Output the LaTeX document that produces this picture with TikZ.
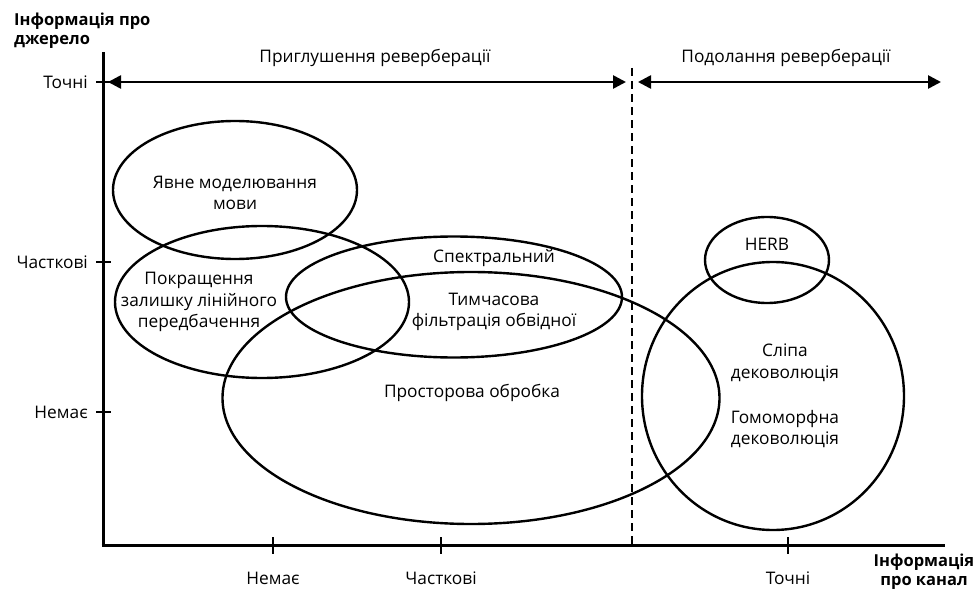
\documentclass[tikz,border=0pt]{standalone}
\usepackage{fontspec}
\setmainfont{Open Sans}
\usepackage{tikz}
\usetikzlibrary{shapes.geometric,arrows.meta,positioning,calc}

\begin{document}
\begin{tikzpicture}[
    x=1pt, y=-1pt,
    font=\fontsize{17.3}{21.5}\selectfont,
    axis/.style={line width=3pt},
    tick/.style={line width=2.8pt},
    region/.style={ellipse, draw, line width=2.4pt, inner sep=0pt, outer sep=0pt},
    label/.style={align=center, inner sep=1pt},
    ticklabel/.style={inner sep=1pt},
    arrow/.style={{Triangle[length=13pt,width=13pt]}-{Triangle[length=13pt,width=13pt]}, line width=2.6pt},
    divider/.style={line width=2.6pt, dash pattern=on 8pt off 5pt}
]
\useasboundingbox (0,0) rectangle (978,594);

% Axes
\coordinate (origin) at (103,545);
\coordinate (ytop) at (103,52);
\coordinate (xend) at (945,545);
\draw[axis] ($(origin)+(0,1.5)$) -- (ytop);
\draw[axis] ($(origin)+(-1.5,0)$) -- (xend);

% Axis titles
\node[label, font=\fontsize{16.5}{19}\selectfont\bfseries, align=left, anchor=north west] (ytitle) at (13,12) {Інформація про\\джерело};
\node[label, font=\fontsize{16.5}{19}\selectfont\bfseries, anchor=north] (xtitle) at (924,553) {Інформація\\про канал};

% y ticks
\foreach \y/\name/\txt in {82/yexact/Точні, 262/ypart/Часткові, 412/ynone/Немає} {
  \draw[tick] (96,\y) -- (111,\y);
  \node[ticklabel, anchor=east] (\name) at (89,\y) {\txt};
}

% x ticks
\foreach \x/\name/\txt in {273/xnone/Немає, 441/xpart/Часткові, 788/xexact/Точні} {
  \draw[tick] (\x,537) -- (\x,554);
  \node[ticklabel] (\name) at (\x,578) {\txt};
}

% Divider
\coordinate (divtop) at (632,68);
\coordinate (divbot) at (632,545);
\draw[divider] (divtop) -- (divbot);

% Range arrows
\coordinate (suppL) at (108,82);
\coordinate (suppR) at (626,82);
\coordinate (overL) at (638,82);
\coordinate (overR) at (941,82);
\draw[arrow] (suppL) -- (suppR);
\draw[arrow] (overL) -- (overR);
\node[label] (supp) at (375,58) {Приглушення реверберації};
\node[label] (over) at (786,58) {Подолання реверберації};

% Regions
\node[region, minimum width=244pt, minimum height=138pt] (lm) at (235,190) {};
\node[region, minimum width=294pt, minimum height=152pt] (lpr) at (262,302) {};
\node[region, minimum width=336pt, minimum height=121pt] (spec) at (454,297) {};
\node[region, minimum width=497pt, minimum height=252pt] (spatial) at (471,398) {};
\node[region, minimum width=124pt, minimum height=86pt] (herb) at (767,260) {};
\node[region, minimum width=262pt, minimum height=268pt] (blind) at (773,396) {};

% Region labels
\node[label] (lmtxt) at (235,193) {Явне моделювання\\мови};
\node[label] (lprtxt) at (199,302) {Покращення\\залишку лінійного\\передбачення};
\node[label] (spectxt) at (494,258) {Спектральний};
\node[label] (envtxt) at (494,312) {Тимчасова\\фільтрація обвідної};
\node[label] (spatialtxt) at (472,393) {Просторова обробка};
\node[label] (herbtxt) at (767,244) {HERB};
\node[label] (blindtxt) at (785,363) {Сліпа\\дековолюція};
\node[label] (homotxt) at (785,429) {Гомоморфна\\дековолюція};

\end{tikzpicture}
\end{document}
